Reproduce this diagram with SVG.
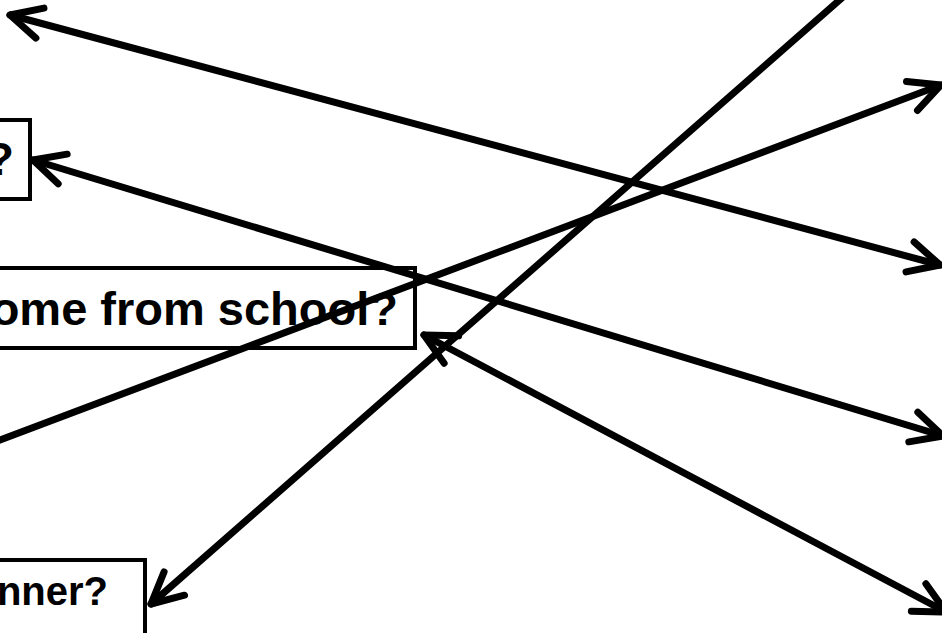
<svg xmlns="http://www.w3.org/2000/svg" width="942" height="633" viewBox="0 0 942 633">
<style>
.box{fill:#fff;stroke:#000;stroke-width:4}
.lbl{font-family:"Liberation Sans",Arial,sans-serif;font-weight:bold;font-size:47px;fill:#000;text-anchor:end}
.con{fill:none;stroke:#000;stroke-width:7;stroke-linecap:round;marker-start:url(#ah);marker-end:url(#ah)}
</style>
<defs>
<marker id="ah" markerUnits="userSpaceOnUse" viewBox="-40 -20 50 40" markerWidth="50" markerHeight="40" refX="0" refY="0" orient="auto-start-reverse" overflow="visible">
<path d="M-31,-15.5 L0,0 L-31,15.5" fill="none" stroke="#000" stroke-width="7" stroke-linecap="round" stroke-linejoin="round"/>
</marker>
</defs>
<g id="node1"><rect class="box" x="-10" y="120" width="40" height="79"/><text class="lbl" x="14" y="175">?</text></g>
<g id="node2"><rect class="box" x="-10" y="268" width="425" height="80"/><text class="lbl" x="398" y="325">ome from school?</text></g>
<g id="node3"><rect class="box" x="-10" y="560" width="155" height="90"/><text class="lbl" x="108" y="605" style="font-size:40px">nner?</text></g>
<g id="connectors">
<path class="con" d="M10,15 L940,265"/>
<path class="con" d="M33,160 L943,436"/>
<path class="con" style="marker-start:none" d="M-5,442 L941,85"/>
<path class="con" style="marker-start:none" d="M843,-3 L151,604"/>
<path class="con" d="M424,335 L946,612"/>
</g>
</svg>
